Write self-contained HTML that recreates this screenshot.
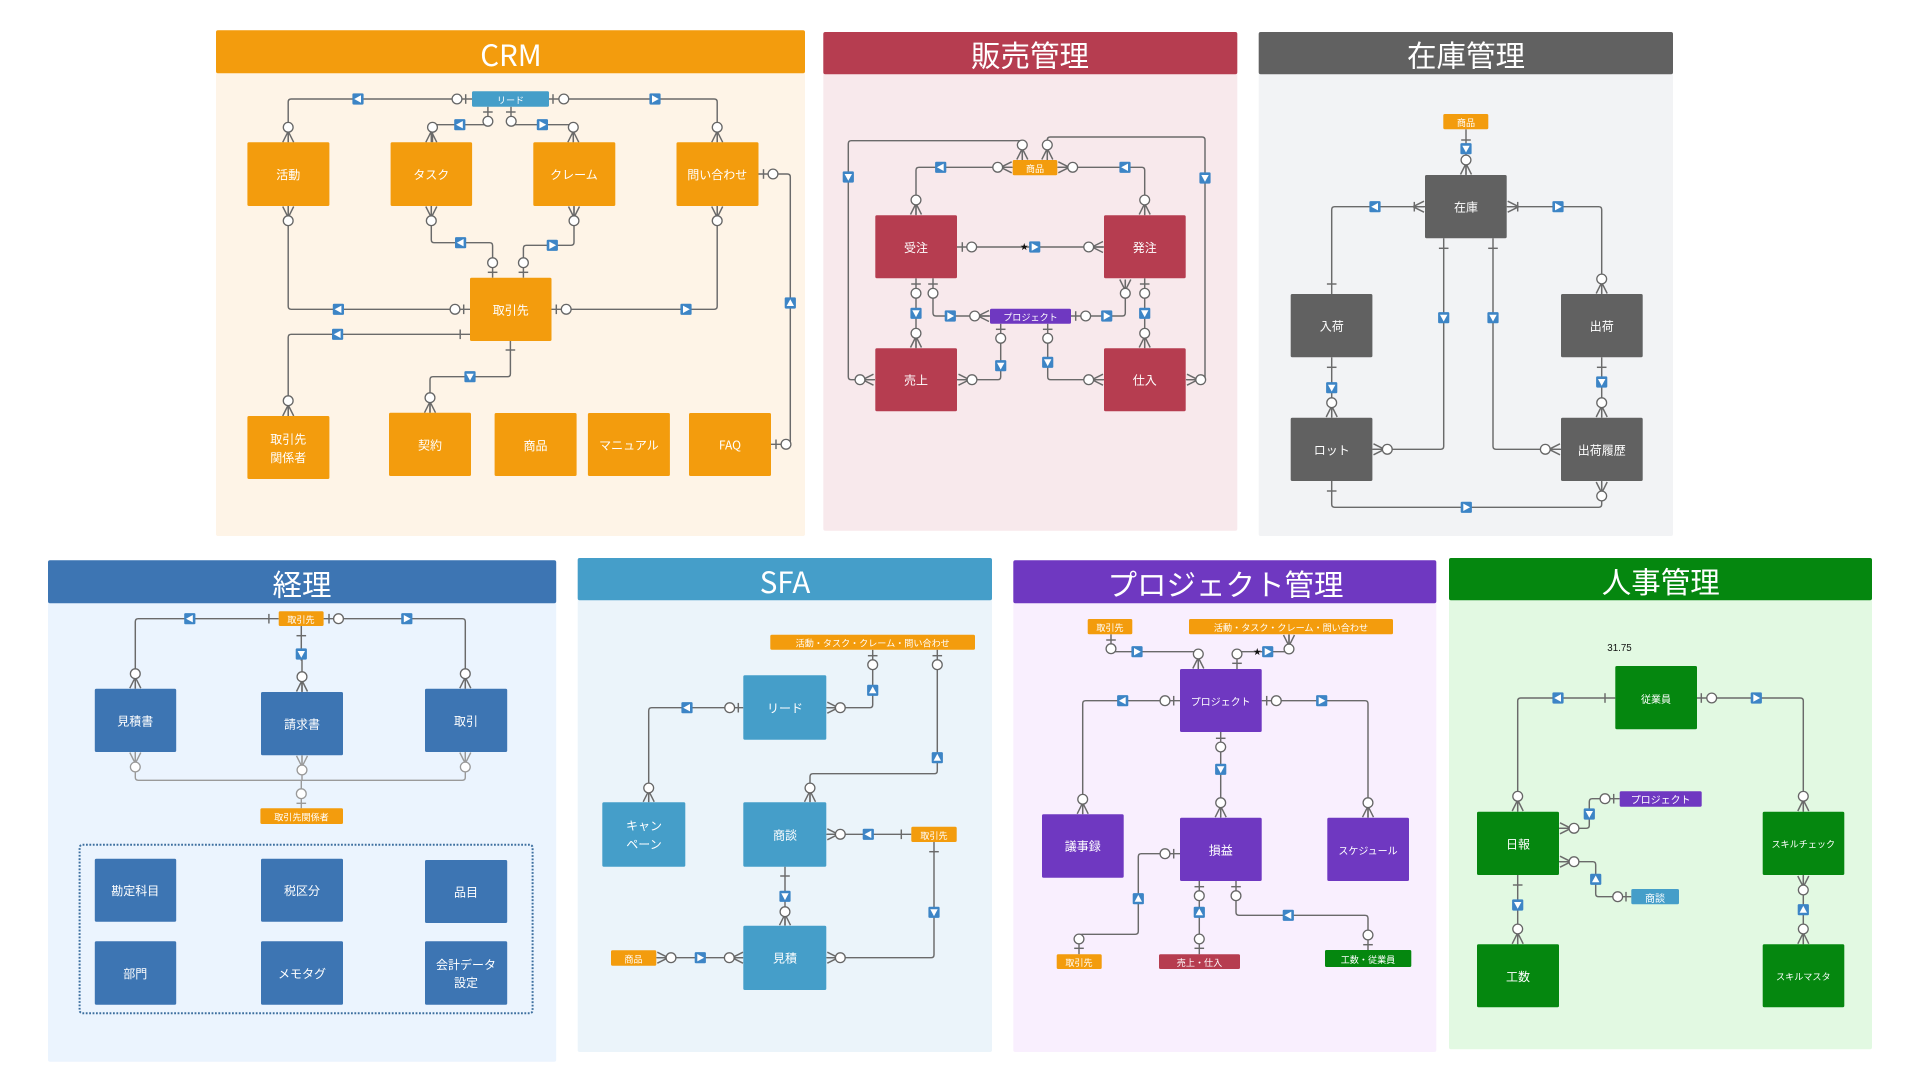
<!DOCTYPE html>
<html lang="ja">
<head>
<meta charset="utf-8">
<title>ER</title>
<style>
html,body{margin:0;padding:0;background:#fff;width:1920px;height:1080px;overflow:hidden}
svg{display:block}
text{font-family:"Noto Sans CJK JP","Liberation Sans",sans-serif;text-anchor:middle;dominant-baseline:central;fill:#fff}
.n{font-size:12px}
.s{font-size:9.1px}
.x{font-size:10px}
.t{font-size:29.5px}
.l{fill:none;stroke:#6a6a6a;stroke-width:1.45}
.g{fill:none;stroke:#9a9a9a;stroke-width:1.4}
</style>
</head>
<body>
<svg width="1920" height="1080" viewBox="0 0 1920 1080" xmlns="http://www.w3.org/2000/svg">
<defs>
<circle id="o" r="4.9" fill="#fff" stroke="#666" stroke-width="1.3"/>
<circle id="og" r="4.9" fill="#fff" stroke="#999" stroke-width="1.3"/>
<path id="bh" d="M0-4.8V4.8"/>
<path id="bv" d="M-4.8 0H4.8"/>
<path id="kd" d="M-5.5 0L0-11M5.5 0L0-11M0 0V-11"/>
<path id="ku" d="M-5.5 0L0 11M5.5 0L0 11M0 0V11"/>
<path id="kr" d="M0-5.5L-11 0M0 5.5L-11 0M0 0H-11"/>
<path id="kl" d="M0-5.5L11 0M0 5.5L11 0M0 0H11"/>
<g id="R"><rect x="-5.6" y="-5.6" width="11.2" height="11.2" rx="1.2" fill="#3d85c6"/><path d="M-3-3.7L3.8 0-3 3.7Z" fill="#fff"/></g>
<g id="L"><rect x="-5.6" y="-5.6" width="11.2" height="11.2" rx="1.2" fill="#3d85c6"/><path d="M3-3.7L-3.8 0 3 3.7Z" fill="#fff"/></g>
<g id="U"><rect x="-5.6" y="-5.6" width="11.2" height="11.2" rx="1.2" fill="#3d85c6"/><path d="M-3.7 3L0-3.8 3.7 3Z" fill="#fff"/></g>
<g id="D"><rect x="-5.6" y="-5.6" width="11.2" height="11.2" rx="1.2" fill="#3d85c6"/><path d="M-3.7-3L0 3.8 3.7-3Z" fill="#fff"/></g>
</defs>

<!-- CRM -->
<g>
<rect x="216" y="30.3" width="589" height="505.7" rx="2" fill="#fef4e7"/>
<rect x="216" y="30.3" width="589" height="43" rx="2" fill="#f39c0d"/>
<text class="t" x="511" y="54">CRM</text>
<g class="l">
<path d="M472 99H291.2Q288.2 99 288.2 102V142.3"/>
<path d="M549 99H714.2Q717.2 99 717.2 102V142.3"/>
<path d="M487.9 106.7V124.7H432.5V142.3"/>
<path d="M511 106.7V124.7H573.3V142.3"/>
<path d="M288.2 206V306.3Q288.2 309.3 291.2 309.3H470"/>
<path d="M431.3 206V239.7Q431.3 242.7 434.3 242.7H489.6Q492.6 242.7 492.6 245.7V277.7"/>
<path d="M574 206V242.3Q574 245.3 571 245.3H526.4Q523.4 245.3 523.4 248.3V277.7"/>
<path d="M717.2 206V306.3Q717.2 309.3 714.2 309.3H551.5"/>
<path d="M470 334.3H291.2Q288.2 334.3 288.2 337.3V416"/>
<path d="M510.4 341V373.7Q510.4 376.7 507.4 376.7H433Q430 376.7 430 379.7V412.7"/>
<path d="M758.3 174H787.3Q790.3 174 790.3 177V441.3Q790.3 444.3 787.3 444.3H771"/>
<use href="#kd" x="288.2" y="142.3"/><use href="#kd" x="431.3" y="142.3"/><use href="#kd" x="573.3" y="142.3"/><use href="#kd" x="717.2" y="142.3"/>
<use href="#ku" x="288.2" y="206.5"/><use href="#ku" x="431.3" y="206.5"/><use href="#ku" x="574" y="206.5"/><use href="#ku" x="717.2" y="206.5"/>
<use href="#kd" x="288.2" y="416"/><use href="#kd" x="430" y="412.7"/>
<use href="#bh" x="465.7" y="99"/><use href="#bh" x="553" y="99"/>
<use href="#bv" x="487.9" y="112"/><use href="#bv" x="510.8" y="112"/>
<use href="#bv" x="492.6" y="272.3"/><use href="#bv" x="523.4" y="272.3"/>
<use href="#bh" x="463.7" y="309.3"/><use href="#bh" x="556.3" y="309.3"/>
<use href="#bh" x="460.2" y="334.3"/><use href="#bv" x="510.4" y="350"/>
<use href="#bh" x="763.5" y="174"/><use href="#bh" x="776" y="444.3"/>
</g>
<use href="#o" x="457" y="99"/><use href="#o" x="563.8" y="99"/><use href="#o" x="288.2" y="127.3"/><use href="#o" x="717.2" y="127.3"/>
<use href="#o" x="487.9" y="121.3"/><use href="#o" x="511.2" y="121.3"/><use href="#o" x="432.5" y="127.3"/><use href="#o" x="573.3" y="127.3"/>
<use href="#o" x="288.2" y="220.7"/><use href="#o" x="431.3" y="220.7"/><use href="#o" x="574" y="220.7"/><use href="#o" x="717.2" y="220.7"/>
<use href="#o" x="492.6" y="262.7"/><use href="#o" x="523.4" y="262.7"/><use href="#o" x="455" y="309.3"/><use href="#o" x="566.2" y="309.3"/>
<use href="#o" x="288.2" y="400.7"/><use href="#o" x="430" y="397.7"/><use href="#o" x="773" y="174"/><use href="#o" x="786" y="444.3"/>
<use href="#L" x="358" y="99"/><use href="#R" x="655" y="99"/><use href="#L" x="459.8" y="124.7"/><use href="#R" x="542.4" y="124.7"/>
<use href="#L" x="460.6" y="242.7"/><use href="#R" x="552.3" y="245.3"/><use href="#L" x="338.4" y="309.3"/><use href="#R" x="686" y="309.3"/>
<use href="#L" x="337.6" y="334.3"/><use href="#D" x="470" y="376.7"/><use href="#U" x="790.3" y="303"/>
<g fill="#f39c0d">
<rect x="472" y="91.3" width="77" height="15.4" rx="1.5" fill="#459ec9"/>
<rect x="247.4" y="142.3" width="82" height="63.7" rx="1.5"/><rect x="390.6" y="142.3" width="81.5" height="63.7" rx="1.5"/>
<rect x="533.3" y="142.3" width="82" height="63.7" rx="1.5"/><rect x="676.5" y="142.3" width="82" height="63.7" rx="1.5"/>
<rect x="470" y="277.7" width="81.5" height="63.3" rx="1.5"/><rect x="247.4" y="416" width="82" height="63" rx="1.5"/>
<rect x="389" y="412.7" width="82" height="63.3" rx="1.5"/><rect x="494.6" y="413" width="82" height="63" rx="1.5"/>
<rect x="587.9" y="413" width="82" height="63" rx="1.5"/><rect x="689" y="413" width="82" height="63" rx="1.5"/>
</g>
<text class="s" x="510.5" y="99.3">リード</text>
<text class="n" x="288.2" y="174.5">活動</text><text class="n" x="431.3" y="174.5">タスク</text><text class="n" x="574" y="174.5">クレーム</text><text class="n" x="717.2" y="174.5">問い合わせ</text>
<text class="n" x="510.8" y="310">取引先</text>
<text class="n" x="288.2" y="439">取引先</text><text class="n" x="288.2" y="457.3">関係者</text>
<text class="n" x="430" y="445">契約</text><text class="n" x="535.5" y="445.5">商品</text><text class="n" x="629" y="445">マニュアル</text><text class="n" x="730" y="445">FAQ</text>
</g>

<!-- 販売管理 -->
<g>
<rect x="823.3" y="32" width="414" height="498.7" rx="2" fill="#f8e9ec"/>
<rect x="823.3" y="32" width="414" height="42.3" rx="2" fill="#b63d50"/>
<text class="t" x="1030" y="54.7">販売管理</text>
<g class="l">
<path d="M1022.3 160V140.7H851.3Q848.3 140.7 848.3 143.7V376.7Q848.3 379.7 851.3 379.7H875"/>
<path d="M1047.3 160V140Q1047.3 137 1050.3 137H1202Q1205 137 1205 140V376.7Q1205 379.7 1202 379.7H1186"/>
<path d="M1012.7 167.3H919Q916 167.3 916 170.3V215.3"/>
<path d="M1057.3 167.3H1141.7Q1144.7 167.3 1144.7 170.3V215.3"/>
<path d="M957 247H1104"/>
<path d="M916 278.3V348.3"/>
<path d="M933 278.3V313Q933 316 936 316H990"/>
<path d="M1071 316H1122.3Q1125.3 316 1125.3 313V280"/>
<path d="M1144.7 278.3V348.3"/>
<path d="M1000.7 323.7V376.7Q1000.7 379.7 997.7 379.7H957"/>
<path d="M1047.7 323.7V376.7Q1047.7 379.7 1050.7 379.7H1104"/>
<use href="#kd" x="1022.3" y="159.5"/><use href="#kd" x="1047.3" y="159.5"/><use href="#kr" x="1011.7" y="167.3"/><use href="#kl" x="1058.3" y="167.3"/>
<use href="#kd" x="916" y="214.5"/><use href="#kd" x="1144.7" y="214.5"/><use href="#kr" x="1103" y="247"/>
<use href="#kd" x="916" y="347.5"/><use href="#kd" x="1144.7" y="347.5"/><use href="#kr" x="989" y="316"/>
<use href="#ku" x="1125.3" y="279.5"/><use href="#kr" x="873.5" y="379.7"/><use href="#kl" x="958.5" y="379.7"/>
<use href="#kr" x="1103" y="379.7"/><use href="#kl" x="1187" y="379.7"/>
<use href="#bh" x="962.3" y="247"/><use href="#bv" x="916" y="284"/><use href="#bv" x="933" y="284"/><use href="#bv" x="1144.7" y="284"/>
<use href="#bh" x="1075.7" y="316"/><use href="#bv" x="1000.7" y="329.3"/><use href="#bv" x="1047.7" y="329.3"/>
</g>
<use href="#o" x="1022.3" y="145"/><use href="#o" x="1047.3" y="145"/><use href="#o" x="997.7" y="167.3"/><use href="#o" x="1072.7" y="167.3"/>
<use href="#o" x="916" y="200"/><use href="#o" x="1144.7" y="200"/><use href="#o" x="971.7" y="247"/><use href="#o" x="1088.7" y="247"/>
<use href="#o" x="916" y="293.3"/><use href="#o" x="933" y="293.3"/><use href="#o" x="1125.3" y="293.3"/><use href="#o" x="1144.7" y="293.3"/>
<use href="#o" x="974.7" y="316"/><use href="#o" x="1085.7" y="316"/><use href="#o" x="916" y="333.3"/><use href="#o" x="1144.7" y="333.3"/>
<use href="#o" x="1000.7" y="338.3"/><use href="#o" x="1047.7" y="338.3"/><use href="#o" x="860" y="379.7"/><use href="#o" x="972" y="379.7"/>
<use href="#o" x="1088.7" y="379.7"/><use href="#o" x="1200.7" y="379.7"/>
<use href="#D" x="848.3" y="177"/><use href="#D" x="1205" y="178"/><use href="#L" x="940.7" y="167.3"/><use href="#L" x="1125" y="167.3"/>
<use href="#R" x="1034.7" y="247"/><use href="#D" x="916" y="313.3"/><use href="#D" x="1144.7" y="313.3"/>
<use href="#R" x="950.3" y="316"/><use href="#R" x="1106.7" y="316"/><use href="#D" x="1000.7" y="365.7"/><use href="#D" x="1047.7" y="362.3"/>
<text x="1024.3" y="247" style="fill:#111;font-size:8px">★</text>
<g fill="#b63d50">
<rect x="875.3" y="215.3" width="81.7" height="63" rx="1.5"/><rect x="1104" y="215.3" width="81.7" height="63" rx="1.5"/>
<rect x="875.3" y="348.3" width="81.7" height="63" rx="1.5"/><rect x="1104" y="348.3" width="81.7" height="63" rx="1.5"/>
</g>
<rect x="1012.7" y="160" width="44.6" height="15.3" rx="1.5" fill="#f39c0d"/>
<rect x="990" y="308.7" width="81" height="15" rx="1.5" fill="#6f38c1"/>
<text class="s" x="1035" y="168">商品</text><text class="s" x="1030.5" y="316.4">プロジェクト</text>
<text class="n" x="916" y="247.3">受注</text><text class="n" x="1144.7" y="247.3">発注</text><text class="n" x="916" y="380">売上</text><text class="n" x="1144.7" y="380">仕入</text>
</g>

<!-- 在庫管理 -->
<g>
<rect x="1258.7" y="32" width="414.3" height="504" rx="2" fill="#f2f3f5"/>
<rect x="1258.7" y="32" width="414.3" height="42.3" rx="2" fill="#616161"/>
<text class="t" x="1466" y="54.7">在庫管理</text>
<g class="l">
<path d="M1466 129.3V175"/>
<path d="M1425 206.7H1334.7Q1331.7 206.7 1331.7 209.7V294"/>
<path d="M1506.7 206.7H1598.7Q1601.7 206.7 1601.7 209.7V294"/>
<path d="M1443.7 238.3V446.3Q1443.7 449.3 1440.7 449.3H1372.3"/>
<path d="M1493 238.3V446.3Q1493 449.3 1496 449.3H1561"/>
<path d="M1331.7 357.3V417.7"/>
<path d="M1601.7 357.3V417.7"/>
<path d="M1331.7 481V504.3Q1331.7 507.3 1334.7 507.3H1598.7Q1601.7 507.3 1601.7 504.3V481"/>
<use href="#kd" x="1466" y="174.5"/><use href="#kr" x="1424" y="206.7"/><use href="#kl" x="1507.7" y="206.7"/>
<use href="#kd" x="1601.7" y="293.5"/><use href="#kd" x="1331.7" y="417"/><use href="#kd" x="1601.7" y="417"/>
<use href="#kl" x="1373.5" y="449.3"/><use href="#kr" x="1560" y="449.3"/><use href="#ku" x="1601.7" y="482"/>
<use href="#bv" x="1466" y="140"/><use href="#bh" x="1414.3" y="206.7"/><use href="#bh" x="1517.7" y="206.7"/>
<use href="#bv" x="1443.7" y="248.3"/><use href="#bv" x="1493" y="248.3"/><use href="#bv" x="1331.7" y="284"/>
<use href="#bv" x="1331.7" y="367.3"/><use href="#bv" x="1601.7" y="367.3"/><use href="#bv" x="1331.7" y="491"/>
</g>
<use href="#o" x="1466" y="160"/><use href="#o" x="1601.7" y="279"/><use href="#o" x="1331.7" y="402.7"/><use href="#o" x="1601.7" y="402.7"/>
<use href="#o" x="1387.3" y="449.3"/><use href="#o" x="1545.3" y="449.3"/><use href="#o" x="1601.7" y="496"/>
<use href="#D" x="1466" y="148.7"/><use href="#L" x="1375" y="206.7"/><use href="#R" x="1558" y="206.7"/>
<use href="#D" x="1443.7" y="317.7"/><use href="#D" x="1493" y="317.7"/><use href="#D" x="1331.7" y="387.7"/><use href="#D" x="1601.7" y="382"/><use href="#R" x="1466.3" y="507.3"/>
<g fill="#616161">
<rect x="1425" y="175" width="81.7" height="63.3" rx="1.5"/><rect x="1290.7" y="294" width="81.7" height="63.3" rx="1.5"/>
<rect x="1561" y="294" width="81.7" height="63.3" rx="1.5"/><rect x="1290.7" y="417.7" width="81.7" height="63.3" rx="1.5"/>
<rect x="1561" y="417.7" width="81.7" height="63.3" rx="1.5"/>
</g>
<rect x="1443.3" y="114" width="45" height="15.3" rx="1.5" fill="#f39c0d"/>
<text class="s" x="1466" y="122">商品</text>
<text class="n" x="1466" y="207">在庫</text><text class="n" x="1331.7" y="326">入荷</text><text class="n" x="1601.7" y="326">出荷</text>
<text class="n" x="1331.7" y="450">ロット</text><text class="n" x="1601.7" y="450">出荷履歴</text>
</g>

<!-- 経理 -->
<g>
<rect x="48" y="560.3" width="508.2" height="501.4" rx="2" fill="#ebf4fe"/>
<rect x="48" y="560.3" width="508.2" height="43" rx="2" fill="#3d75b3"/>
<text class="t" x="302" y="583.3">経理</text>
<g class="g">
<path d="M135.3 752V777.3Q135.3 780.3 138.3 780.3H462.3Q465.3 780.3 465.3 777.3V752"/>
<path d="M302 755.3V780.3M301.3 780.3V808.3"/>
<use href="#ku" x="135.3" y="752.5"/><use href="#ku" x="302" y="755.8"/><use href="#ku" x="465.3" y="752.5"/>
<use href="#bv" x="301.3" y="803.3"/>
</g>
<use href="#og" x="135.3" y="767"/><use href="#og" x="302" y="770"/><use href="#og" x="465.3" y="767"/><use href="#og" x="301.3" y="793.7"/>
<g class="l">
<path d="M278.7 618.7H138.3Q135.3 618.7 135.3 621.7V688.7"/>
<path d="M323.6 618.7H462.3Q465.3 618.7 465.3 621.7V688.7"/>
<path d="M301.3 626V660H302V692"/>
<use href="#kd" x="135.3" y="688.2"/><use href="#kd" x="302" y="691.5"/><use href="#kd" x="465.3" y="688.2"/>
<use href="#bh" x="268.9" y="618.7"/><use href="#bh" x="329" y="618.7"/><use href="#bv" x="301.3" y="635.7"/>
</g>
<use href="#o" x="135.3" y="673.7"/><use href="#o" x="338.5" y="618.7"/><use href="#o" x="302" y="676.7"/><use href="#o" x="465.3" y="673.7"/>
<use href="#L" x="189.8" y="618.7"/><use href="#R" x="406.8" y="618.7"/><use href="#D" x="301.3" y="654"/>
<rect x="79.6" y="844.7" width="453" height="168.6" rx="3" fill="none" stroke="#3d6f9f" stroke-width="2" stroke-dasharray="1.8 1.6"/>
<g fill="#3d75b3">
<rect x="94.8" y="688.7" width="81.4" height="63.3" rx="1.5"/><rect x="261" y="692" width="82" height="63.3" rx="1.5"/><rect x="425" y="688.7" width="82.2" height="63.3" rx="1.5"/>
<rect x="94.8" y="858.7" width="81.4" height="63" rx="1.5"/><rect x="261" y="858.7" width="82" height="63" rx="1.5"/><rect x="425" y="860" width="82.2" height="63" rx="1.5"/>
<rect x="94.8" y="941.3" width="81.4" height="63.4" rx="1.5"/><rect x="261" y="941.3" width="82" height="63.4" rx="1.5"/><rect x="425" y="941.3" width="82.2" height="63.4" rx="1.5"/>
</g>
<rect x="278.7" y="611.3" width="44.9" height="14.7" rx="1.5" fill="#f39c0d"/>
<rect x="260.4" y="808.3" width="82.6" height="15.7" rx="1.5" fill="#f39c0d"/>
<text class="s" x="301" y="619">取引先</text><text class="s" x="301.5" y="816.5">取引先関係者</text>
<text class="n" x="135.3" y="721">見積書</text><text class="n" x="302" y="724">請求書</text><text class="n" x="466" y="721">取引</text>
<text class="n" x="135.3" y="890.5">勘定科目</text><text class="n" x="302" y="890.5">税区分</text><text class="n" x="466" y="892">品目</text>
<text class="n" x="135.3" y="973.5">部門</text><text class="n" x="302" y="973.5">メモタグ</text>
<text class="n" x="466" y="964.3">会計データ</text><text class="n" x="466" y="982.6">設定</text>
</g>

<!-- SFA -->
<g>
<rect x="577.7" y="558" width="414.3" height="494" rx="2" fill="#ebf4fa"/>
<rect x="577.7" y="558" width="414.3" height="42.3" rx="2" fill="#459ec9"/>
<text class="t" x="785" y="581">SFA</text>
<g class="l">
<path d="M743.3 707.7H651.7Q648.7 707.7 648.7 710.7V802.3"/>
<path d="M826.3 707.7H869.7Q872.7 707.7 872.7 704.7V649.7"/>
<path d="M937.3 649.7V770.7Q937.3 773.7 934.3 773.7H813Q810 773.7 810 776.7V802.3"/>
<path d="M826.3 834.3H911.3"/>
<path d="M785 866.7V925.7"/>
<path d="M934 842V954.7Q934 957.7 931 957.7H826.3"/>
<path d="M656.3 957.7H743.3"/>
<use href="#kd" x="648.7" y="801.8"/><use href="#kd" x="810" y="801.8"/><use href="#kd" x="785" y="925.2"/>
<use href="#kl" x="827.3" y="707.7"/><use href="#kl" x="827.3" y="834.3"/><use href="#kl" x="827.3" y="957.7"/>
<use href="#kl" x="657.3" y="957.7"/><use href="#kr" x="743" y="957.7"/>
<use href="#bh" x="738.3" y="707.7"/><use href="#bv" x="872.7" y="655.7"/><use href="#bv" x="937.3" y="655.7"/>
<use href="#bh" x="901.3" y="834.3"/><use href="#bv" x="785" y="876"/><use href="#bv" x="934" y="851.7"/>
</g>
<use href="#o" x="729.7" y="707.7"/><use href="#o" x="840.3" y="707.7"/><use href="#o" x="872.7" y="664.7"/><use href="#o" x="937.3" y="664.7"/>
<use href="#o" x="648.7" y="788"/><use href="#o" x="810" y="788"/><use href="#o" x="840.3" y="834.3"/><use href="#o" x="785" y="911.7"/>
<use href="#o" x="671" y="957.7"/><use href="#o" x="729.3" y="957.7"/><use href="#o" x="840.3" y="957.7"/>
<use href="#L" x="687" y="707.7"/><use href="#U" x="872.7" y="690.3"/><use href="#U" x="937.3" y="757.7"/><use href="#L" x="868.3" y="834.3"/>
<use href="#D" x="785" y="896.3"/><use href="#D" x="934" y="912.3"/><use href="#R" x="700.3" y="957.7"/>
<g fill="#459ec9">
<rect x="743.3" y="675.3" width="83" height="64.4" rx="1.5"/><rect x="602.3" y="802.3" width="83" height="64.4" rx="1.5"/>
<rect x="743.3" y="802.3" width="83" height="64.4" rx="1.5"/><rect x="743.3" y="925.7" width="83" height="64.3" rx="1.5"/>
</g>
<g fill="#f39c0d">
<rect x="770.3" y="634.7" width="204.7" height="15" rx="1.5"/><rect x="911.3" y="826.7" width="45.4" height="15.3" rx="1.5"/><rect x="611" y="950.3" width="45.3" height="15.4" rx="1.5"/>
</g>
<text class="s" x="872.7" y="642.5">活動・タスク・クレーム・問い合わせ</text><text class="s" x="934" y="835">取引先</text><text class="s" x="633.5" y="958.5">商品</text>
<text class="n" x="785" y="708">リード</text><text class="n" x="644" y="825.5">キャン</text><text class="n" x="644" y="843.8">ペーン</text>
<text class="n" x="785" y="835">商談</text><text class="n" x="785" y="958">見積</text>
</g>

<!-- プロジェクト管理 -->
<g>
<rect x="1013.3" y="560.3" width="423" height="491.7" rx="2" fill="#f9effe"/>
<rect x="1013.3" y="560.3" width="423" height="43" rx="2" fill="#6f38c1"/>
<text class="t" x="1225.5" y="583.3">プロジェクト管理</text>
<g class="l">
<path d="M1111 634.3V651.7H1198.3V669"/>
<path d="M1237 669V651.7H1289V634.3"/>
<path d="M1180 700.7H1085.7Q1082.7 700.7 1082.7 703.7V814.3"/>
<path d="M1261.7 700.7H1365Q1368 700.7 1368 703.7V817.7"/>
<path d="M1220.7 732V817.7"/>
<path d="M1180 853.7H1141.3Q1138.3 853.7 1138.3 856.7V931.3Q1138.3 934.3 1135.3 934.3H1082Q1079 934.3 1079 937.3V954.3"/>
<path d="M1199.3 881V954.3"/>
<path d="M1236 881V912.3Q1236 915.3 1239 915.3H1365Q1368 915.3 1368 918.3V950"/>
<use href="#kd" x="1198.3" y="668.5"/><use href="#ku" x="1289" y="635"/><use href="#kd" x="1082.7" y="813.8"/><use href="#kd" x="1368" y="817.2"/><use href="#kd" x="1220.7" y="817.2"/>
<use href="#bv" x="1111" y="640"/><use href="#bv" x="1237" y="663.3"/><use href="#bh" x="1173.7" y="700.7"/><use href="#bh" x="1266.7" y="700.7"/>
<use href="#bv" x="1220.7" y="738.3"/><use href="#bh" x="1173.7" y="853.7"/><use href="#bv" x="1199.3" y="886.7"/><use href="#bv" x="1236" y="886.7"/>
<use href="#bv" x="1079" y="948.3"/><use href="#bv" x="1199.3" y="948.3"/><use href="#bv" x="1368" y="944.7"/>
</g>
<use href="#o" x="1111" y="648.7"/><use href="#o" x="1198.3" y="654"/><use href="#o" x="1237" y="654"/><use href="#o" x="1289" y="649"/>
<use href="#o" x="1165" y="700.7"/><use href="#o" x="1276.3" y="700.7"/><use href="#o" x="1220.7" y="747"/><use href="#o" x="1082.7" y="799.3"/>
<use href="#o" x="1220.7" y="802.7"/><use href="#o" x="1368" y="802.7"/><use href="#o" x="1165" y="853.7"/><use href="#o" x="1199.3" y="895.7"/>
<use href="#o" x="1236" y="895.7"/><use href="#o" x="1368" y="935"/><use href="#o" x="1079" y="939"/><use href="#o" x="1199.3" y="939"/>
<use href="#R" x="1137" y="651.7"/><use href="#R" x="1267.7" y="651.7"/><use href="#L" x="1122.7" y="700.7"/><use href="#R" x="1321.7" y="700.7"/>
<use href="#D" x="1220.7" y="769.3"/><use href="#U" x="1138.3" y="898.7"/><use href="#U" x="1199.3" y="912.3"/><use href="#L" x="1288.3" y="915.3"/>
<text x="1257.3" y="652" style="fill:#111;font-size:8px">★</text>
<g fill="#6f38c1">
<rect x="1180" y="669" width="81.7" height="63" rx="1.5"/><rect x="1042" y="814.3" width="81.7" height="63.4" rx="1.5"/>
<rect x="1180" y="817.7" width="81.7" height="63.3" rx="1.5"/><rect x="1327.3" y="817.7" width="81.7" height="63.3" rx="1.5"/>
</g>
<g fill="#f39c0d">
<rect x="1087.7" y="619" width="44.6" height="15.3" rx="1.5"/><rect x="1189" y="619" width="204" height="15.3" rx="1.5"/><rect x="1056.7" y="954.3" width="45" height="14.7" rx="1.5"/>
</g>
<rect x="1159" y="954.3" width="81" height="14.7" rx="1.5" fill="#b63d50"/>
<rect x="1325" y="950" width="86.3" height="17" rx="1.5" fill="#05870f"/>
<text class="s" x="1110" y="627">取引先</text><text class="s" x="1291" y="627">活動・タスク・クレーム・問い合わせ</text>
<text class="s" x="1079" y="962">取引先</text><text class="s" x="1199.5" y="962">売上・仕入</text><text class="s" x="1368" y="959">工数・従業員</text>
<text class="x" x="1220.7" y="701">プロジェクト</text><text class="n" x="1082.7" y="846">議事録</text><text class="n" x="1220.7" y="850">損益</text><text class="x" x="1368" y="850">スケジュール</text>
</g>

<!-- 人事管理 -->
<g>
<rect x="1449" y="558" width="423" height="491.3" rx="2" fill="#e2f9e2"/>
<rect x="1449" y="558" width="423" height="42.3" rx="2" fill="#05870f"/>
<text class="t" x="1660.7" y="581">人事管理</text>
<text x="1619.5" y="648.3" style="font-family:'Liberation Sans',sans-serif;font-size:9.75px;fill:#111">31.75</text>
<g class="l">
<path d="M1615.3 698H1520.7Q1517.7 698 1517.7 701V811.7"/>
<path d="M1697 698H1800.3Q1803.3 698 1803.3 701V811.7"/>
<path d="M1559 828.3H1586.3Q1589.3 828.3 1589.3 825.3V801.7Q1589.3 798.7 1592.3 798.7H1619.7"/>
<path d="M1559 861.7H1592.7Q1595.7 861.7 1595.7 864.7V893.7Q1595.7 896.7 1598.7 896.7H1631.3"/>
<path d="M1517.7 875V944.3"/>
<path d="M1803.3 875V944.3"/>
<use href="#kd" x="1517.7" y="811"/><use href="#kd" x="1803.3" y="811"/><use href="#kl" x="1560" y="828.3"/><use href="#kl" x="1560" y="861.7"/>
<use href="#kd" x="1517.7" y="943.8"/><use href="#kd" x="1803.3" y="943.8"/><use href="#ku" x="1803.3" y="876"/>
<use href="#bh" x="1605" y="698"/><use href="#bh" x="1701.3" y="698"/><use href="#bh" x="1613.7" y="798.7"/><use href="#bh" x="1626" y="896.7"/><use href="#bv" x="1517.7" y="885"/>
</g>
<use href="#o" x="1711.7" y="698"/><use href="#o" x="1517.7" y="796.3"/><use href="#o" x="1803.3" y="796.3"/><use href="#o" x="1605" y="798.7"/>
<use href="#o" x="1574" y="828.3"/><use href="#o" x="1574" y="861.7"/><use href="#o" x="1617.7" y="896.7"/><use href="#o" x="1803.3" y="890"/>
<use href="#o" x="1517.7" y="929"/><use href="#o" x="1803.3" y="929"/>
<use href="#L" x="1558" y="698"/><use href="#R" x="1756.3" y="698"/><use href="#D" x="1589.3" y="814"/><use href="#U" x="1595.7" y="879.3"/>
<use href="#D" x="1517.7" y="905"/><use href="#U" x="1803.3" y="909.7"/>
<g fill="#05870f">
<rect x="1615.3" y="666" width="81.7" height="63.3" rx="1.5"/><rect x="1477" y="811.7" width="82" height="63.3" rx="1.5"/>
<rect x="1762.7" y="811.7" width="81.6" height="63.3" rx="1.5"/><rect x="1477" y="944.3" width="82" height="63" rx="1.5"/>
<rect x="1762.7" y="944.3" width="81.6" height="63" rx="1.5"/>
</g>
<rect x="1619.7" y="791.3" width="82" height="15.4" rx="1.5" fill="#6f38c1"/>
<rect x="1631.3" y="889" width="47.7" height="15.3" rx="1.5" fill="#459ec9"/>
<text class="x" x="1660.7" y="799">プロジェクト</text><text class="x" x="1655" y="897.3">商談</text>
<text class="x" x="1656" y="698.3">従業員</text><text class="n" x="1518" y="844">日報</text><text class="s" x="1803.3" y="843.3">スキルチェック</text>
<text class="n" x="1518" y="976.3">工数</text><text class="s" x="1803.3" y="976">スキルマスタ</text>
</g>
</svg>
</body>
</html>
